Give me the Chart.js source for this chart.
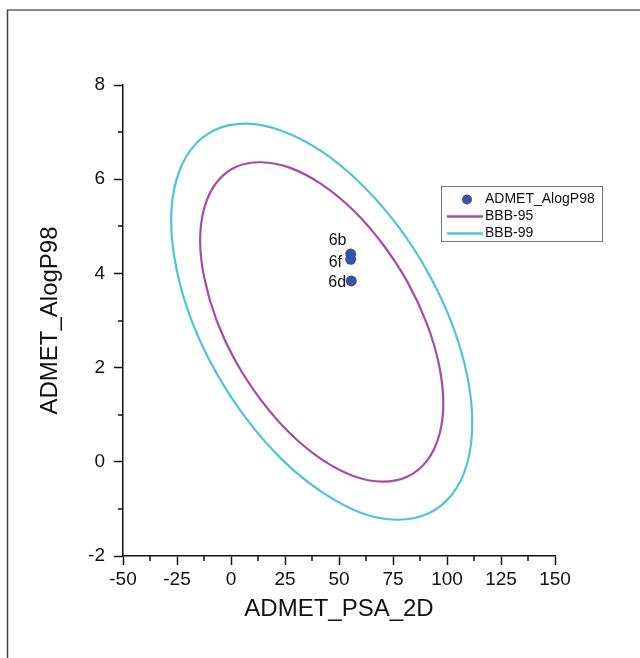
<!DOCTYPE html>
<html>
<head>
<meta charset="utf-8">
<script src="https://cdn.jsdelivr.net/npm/chart.js@4.4.1/dist/chart.umd.min.js"></script>
<style>
  html, body { margin: 0; padding: 0; background: #fff; overflow: hidden; }
  canvas { display: block; }
</style>
</head>
<body>
<canvas id="chart" width="640" height="658"></canvas>
<script>
// compounds
const compoundNames = ['6b', '6f', '6d'];
const compoundPSA = [55.4, 55.4, 55.7];
const compoundAlogP = [4.41, 4.30, 3.84];

const bbb95PSA = [-14.3, -12.3, -6.7, 2.2, 13.9, 27.4, 42.0, 56.6, 70.1, 81.8, 90.7, 96.3,
    98.3, 96.3, 90.7, 81.8, 70.1, 56.6, 42.0, 27.4, 13.9, 2.2, -6.7, -12.3];
const bbb95AlogP = [4.70, 3.89, 3.01, 2.13, 1.31, 0.60, 0.05, -0.30, -0.42, -0.31, 0.02, 0.55,
    1.24, 2.06, 2.93, 3.81, 4.63, 5.34, 5.89, 6.24, 6.36, 6.26, 5.93, 5.40];

// BBB-99 ellipse, same order
const bbb99PSA = [-27.7, -25.3, -18.4, -7.3, 7.2, 24.0, 42.0, 60.0, 76.9, 91.3, 102.4, 109.3,
    111.7, 109.3, 102.4, 91.3, 76.9, 60.0, 42.0, 24.0, 7.2, -7.3, -18.4, -25.3];
const bbb99AlogP = [5.12, 4.11, 3.02, 1.93, 0.91, 0.03, -0.64, -1.08, -1.23, -1.10, -0.69, -0.04,
    0.83, 1.84, 2.92, 4.01, 5.03, 5.91, 6.59, 7.02, 7.18, 7.05, 6.64, 5.98];

const xTicks = [-50, -25, 0, 25, 50, 75, 100, 125, 150];
const yTicks = [-2, 0, 2, 4, 6, 8];

const BLUE = '#3752a6';
const MAGENTA = '#a64ba8';
const CYAN = '#4fc4d7';
const INK = '#111';

// turn x/y lists into a closed loop: last point in front, first two at the end,
// the extra end segments are hidden so the curve joins smoothly
function closedLoop(xs, ys) {
    const pts = xs.map((x, i) => ({ x: x, y: ys[i] }));
    const n = pts.length;
    return [pts[n - 1]].concat(pts, [pts[0], pts[1]]);
}

function loopSegment(color, len) {
    return {
        borderColor: ctx => (ctx.p0DataIndex === 0 || ctx.p1DataIndex === len - 1) ? 'rgba(0,0,0,0)' : color
    };
}

const loop95 = closedLoop(bbb95PSA, bbb95AlogP);
const loop99 = closedLoop(bbb99PSA, bbb99AlogP);

Chart.defaults.font.family = '"Liberation Sans", Arial, sans-serif';
Chart.defaults.color = INK;

const framePlugin = {
    id: 'frame',
    beforeDraw(chart) {
        const c = chart.ctx;
        c.save();
        c.fillStyle = '#fff';
        c.fillRect(0, 0, chart.width, chart.height);
        c.restore();
    },
    afterDraw(chart) {
        const c = chart.ctx;
        c.save();
        // keep the right edge clean, the page frame is open on that side
        c.fillStyle = '#fff';
        c.fillRect(chart.width - 6, 12, 6, chart.height - 12);
        c.strokeStyle = '#888';
        c.lineWidth = 2;
        c.beginPath();
        c.moveTo(7, 10);
        c.lineTo(chart.width, 10);
        c.stroke();
        c.strokeStyle = '#444';
        c.lineWidth = 1.5;
        c.beginPath();
        c.moveTo(7.5, 10);
        c.lineTo(7.5, chart.height);
        c.stroke();
        c.restore();
    }
};

// short ticks halfway between the labelled ones
const minorTicks = {
    id: 'minorTicks',
    afterDraw(chart) {
        const c = chart.ctx;
        const { x, y } = chart.scales;
        c.save();
        c.strokeStyle = INK;
        c.lineWidth = 1.5;
        c.beginPath();
        for (let i = 0; i < xTicks.length - 1; i++) {
            const px = Math.round(x.getPixelForValue((xTicks[i] + xTicks[i + 1]) / 2));
            c.moveTo(px, chart.chartArea.bottom);
            c.lineTo(px, chart.chartArea.bottom + 5);
        }
        for (let i = 0; i < yTicks.length - 1; i++) {
            const py = Math.round(y.getPixelForValue((yTicks[i] + yTicks[i + 1]) / 2));
            c.moveTo(chart.chartArea.left, py);
            c.lineTo(chart.chartArea.left - 5, py);
        }
        c.stroke();
        c.restore();
    }
};

const pointLabels = {
    id: 'pointLabels',
    afterDatasetsDraw(chart, args, opts) {
        const c = chart.ctx;
        const meta = chart.getDatasetMeta(0);
        c.save();
        c.font = '16px "Liberation Sans", Arial, sans-serif';
        c.fillStyle = INK;
        c.textAlign = 'left';
        c.textBaseline = 'middle';
        meta.data.forEach((el, i) => {
            const name = compoundNames[i];
            const off = opts.offsets[name] || [0, 0];
            c.fillText(name, el.x + off[0], el.y + off[1]);
        });
        c.restore();
    }
};

const boxLegend = {
    id: 'boxLegend',
    afterDraw(chart, args, opts) {
        const c = chart.ctx;
        const ds = chart.data.datasets;
        c.save();
        c.strokeStyle = '#777';
        c.lineWidth = 1;
        c.strokeRect(opts.x + 0.5, opts.y + 0.5, opts.w, opts.h);
        c.font = '14px "Liberation Sans", Arial, sans-serif';
        c.textBaseline = 'middle';
        c.textAlign = 'left';
        ds.forEach((d, i) => {
            const cy = opts.y + 13.5 + i * 17;
            if (i === 0) {
                c.fillStyle = d.backgroundColor;
                c.beginPath();
                c.arc(opts.x + 26, cy, 5, 0, Math.PI * 2);
                c.fill();
            } else {
                c.strokeStyle = d.borderColor;
                c.lineWidth = 2.5;
                c.beginPath();
                c.moveTo(opts.x + 6, cy);
                c.lineTo(opts.x + 42, cy);
                c.stroke();
            }
            c.fillStyle = INK;
            c.fillText(d.label, opts.x + 44, cy);
        });
        c.restore();
    }
};

const ctx = document.getElementById('chart').getContext('2d');
new Chart(ctx, {
    type: 'scatter',
    data: {
        datasets: [{
            label: 'ADMET_AlogP98',
            data: compoundPSA.map((x, i) => ({ x: x, y: compoundAlogP[i] })),
            backgroundColor: BLUE,
            borderColor: BLUE,
            borderWidth: 0,
            pointRadius: 5.5
        }, {
            label: 'BBB-95',
            data: loop95,
            showLine: true,
            borderColor: MAGENTA,
            borderWidth: 2.2,
            pointRadius: 0,
            tension: 0.38,
            fill: false,
            segment: loopSegment(MAGENTA, loop95.length)
        }, {
            label: 'BBB-99',
            data: loop99,
            showLine: true,
            borderColor: CYAN,
            borderWidth: 2.2,
            pointRadius: 0,
            tension: 0.38,
            fill: false,
            segment: loopSegment(CYAN, loop99.length)
        }]
    },
    options: {
        responsive: false,
        animation: false,
        layout: { padding: { left: 0, top: 85, right: 85, bottom: 0 } },
        scales: {
            x: {
                type: 'linear',
                min: -50,
                max: 150,
                afterBuildTicks: s => { s.ticks = xTicks.map(v => ({ value: v })); },
                afterFit: s => { s.height = 102; },
                grid: { drawOnChartArea: false, drawTicks: true, tickLength: 9, tickColor: INK, tickWidth: 1.5 },
                border: { color: INK, width: 1.5 },
                ticks: { color: INK, font: { size: 19 }, padding: 3, autoSkip: false, maxRotation: 0 },
                title: { display: true, text: 'ADMET_PSA_2D', color: INK, font: { size: 24 }, padding: { top: 0, bottom: 34 } }
            },
            y: {
                type: 'linear',
                min: -2,
                max: 8,
                afterBuildTicks: s => { s.ticks = yTicks.map(v => ({ value: v })); },
                afterFit: s => { s.width = 123; },
                grid: { drawOnChartArea: false, drawTicks: true, tickLength: 9, tickColor: INK, tickWidth: 1.5 },
                border: { color: INK, width: 1.5 },
                ticks: { color: INK, font: { size: 19 }, padding: 9, autoSkip: false },
                title: { display: true, text: 'ADMET_AlogP98', color: INK, font: { size: 24 }, padding: { top: 36, bottom: 0 } }
            }
        },
        plugins: {
            legend: { display: false },
            tooltip: { enabled: false },
            pointLabels: { offsets: { '6b': [-22, -13], '6f': [-22, 3], '6d': [-23, 2] } },
            boxLegend: { x: 441, y: 186, w: 161, h: 55 }
        }
    },
    plugins: [framePlugin, minorTicks, pointLabels, boxLegend]
});
</script>
</body>
</html>
